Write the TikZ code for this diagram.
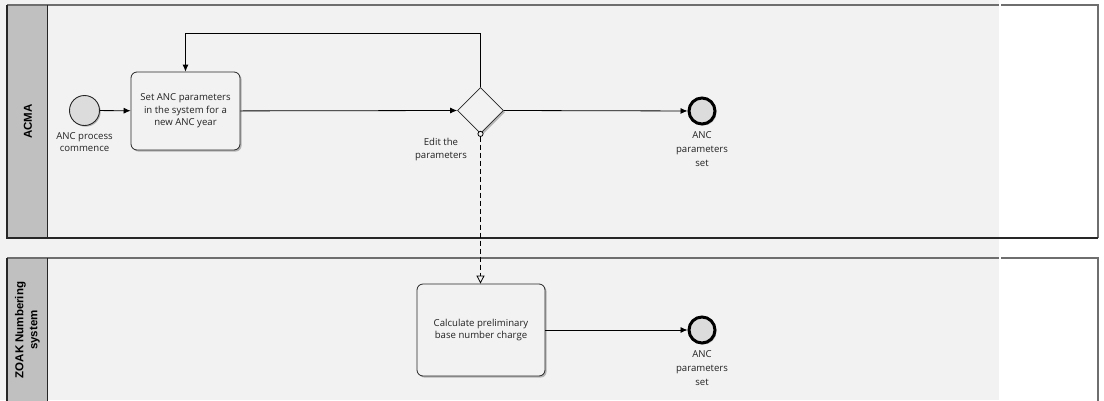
\documentclass[tikz,border=0pt]{standalone}
\usepackage{fontspec}
\setmainfont{Open Sans}
\newfontfamily\lanefont{Liberation Sans}
\usetikzlibrary{arrows.meta,shadows,shapes.geometric}
\definecolor{poolbg}{HTML}{F2F2F2}
\definecolor{headbg}{HTML}{C0C0C0}
\definecolor{laneline}{HTML}{6E6E6E}
\definecolor{evfill}{HTML}{DCDCDC}
\definecolor{txt}{HTML}{222222}
\tikzset{
  every node/.style={font=\fontsize{9.6}{12.5}\selectfont, text=txt},
  task/.style={draw=black!85, fill=poolbg, rounded corners=6pt, line width=0.8pt,
    align=center, inner sep=0pt,
    drop shadow={shadow xshift=1.6pt, shadow yshift=-1.6pt, fill=black!45, opacity=0.6}},
  startev/.style={circle, draw=black!85, fill=evfill, line width=0.9pt, minimum size=30pt, inner sep=0pt,
    drop shadow={shadow xshift=1.2pt, shadow yshift=-1.2pt, fill=black!45, opacity=0.6}},
  endev/.style={circle, draw=black, fill=evfill, line width=3pt, minimum size=26pt, inner sep=0pt,
    drop shadow={shadow xshift=1.5pt, shadow yshift=-1.5pt, fill=black!45, opacity=0.6}},
  gate/.style={diamond, draw=black!85, fill=poolbg, line width=0.8pt, minimum size=46pt, inner sep=0pt,
    drop shadow={shadow xshift=1.6pt, shadow yshift=-1.6pt, fill=black!45, opacity=0.6}},
  evlabel/.style={align=center, inner sep=0pt, anchor=north, font=\fontsize{9.6}{14}\selectfont},
  flow/.style={draw=black, line width=0.8pt, -{Latex[length=7pt,width=6pt]}},
  msgflow/.style={draw=black, line width=0.8pt, dash pattern=on 5pt off 3pt,
    {Circle[open,length=6pt,width=6pt,fill=poolbg,sep=-3pt]}-{Triangle[open,length=8pt,width=8pt,fill=poolbg]}},
  lanehead/.style={font=\lanefont\bfseries\fontsize{11.5}{14}\selectfont, text=black, rotate=90, align=center},
}
\begin{document}
\begin{tikzpicture}[x=1pt,y=-1pt]
  \useasboundingbox (0,0) rectangle (1104,400);
  \begin{scope}
  \clip (0,0) rectangle (1104,400);
  % background
  \fill[poolbg] (0,0) rectangle (999,400);
  \fill[white] (999,0) rectangle (1104,400);

  % lane 1: ACMA
  \fill[poolbg] (47,5) rectangle (999,238);
  \fill[headbg] (7,5) rectangle (47,238);
  \draw[laneline, line width=1.3pt] (7,5) -- (999,5);
  \draw[laneline, line width=1.3pt] (1001,5) -- (1098,5) -- (1098,238);
  \draw[black!85, line width=1.3pt] (7,5) -- (7,238) -- (1098,238);
  \draw[black!85, line width=0.8pt] (47,5) -- (47,238);
  \node[lanehead] (hA) at (28,121.5) {ACMA};

  % lane 2: ZOAK Numbering system
  \fill[headbg] (7,258) rectangle (47,420);
  \draw[laneline, line width=1.3pt] (7,258) -- (999,258);
  \draw[laneline, line width=1.3pt] (1001,258) -- (1098,258) -- (1098,420);
  \draw[black!85, line width=1.3pt] (7,258) -- (7,420);
  \draw[black!85, line width=0.8pt] (47,258) -- (47,420);
  \node[lanehead] (hZ) at (27.5,330) {ZOAK Numbering\\system};
  \end{scope}

  % lane 1 contents
  \node[startev] (s1) at (84.5,110.5) {};
  \node[evlabel, font=\fontsize{9.6}{12.3}\selectfont] (s1l) at ([yshift=-6pt]s1.south) {ANC process\\commence};
  \node[task, minimum width=109pt, minimum height=78pt] (t1) at (185.5,111) {Set ANC parameters\\in the system for a\\new ANC year};
  \node[gate] (g1) at (480.5,110.5) {};
  \node[evlabel, font=\fontsize{9.6}{13}\selectfont] (g1l) at (441,138.5) {Edit the\\parameters};
  \node[endev] (e1) at (702,111) {};
  \node[evlabel] (e1l) at ([yshift=-5.5pt]e1.south) {ANC\\parameters\\set};

  % lane 2 contents
  \node[task, minimum width=128pt, minimum height=92pt] (t2) at (481,330) {Calculate preliminary\\base number charge};
  \node[endev] (e2) at (702,330) {};
  \node[evlabel] (e2l) at ([yshift=-5.5pt]e2.south) {ANC\\parameters\\set};

  % sequence flows
  \draw[flow] (s1) -- (t1);
  \draw[flow] (t1) -- (g1.west);
  \draw[flow] (g1.north) -- (480.5,33) -- (185.5,33) -- (t1.north);
  \draw[flow] (g1.east) -- (e1);
  \draw[flow] (t2) -- (e2);

  % message flow
  \draw[msgflow] (g1.south) -- (t2.north -| g1.south);
\end{tikzpicture}
\end{document}
